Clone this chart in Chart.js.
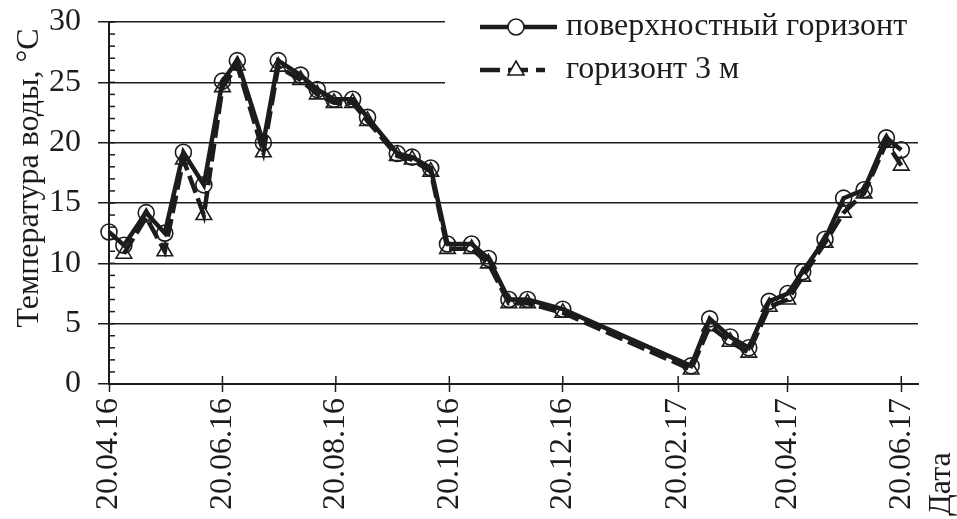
<!DOCTYPE html>
<html>
<head>
<meta charset="utf-8">
<script src="https://cdn.jsdelivr.net/npm/chart.js@4/dist/chart.umd.min.js"></script>
<style>
  html, body { margin: 0; padding: 0; background: #fff; }
  #fontProbe { position: absolute; left: 0; top: 0; visibility: hidden; font-family: 'Liberation Serif'; font-size: 32px; }
</style>
</head>
<body>
<span id="fontProbe">Температура воды 0123456789</span>
<canvas id="tempChart" width="957" height="519"></canvas>
<script>
// days since 20.04.16
var surfaceDays = [0, 8, 20, 30, 40, 51, 61, 69, 83, 91, 103, 112, 121, 131, 139, 155, 163, 173, 182, 195, 204, 215, 225, 244, 313, 323, 334, 344, 355, 365, 373, 385, 395, 406, 418, 426];
var surfaceTemp = [12.6, 11.5, 14.2, 12.5, 19.2, 16.5, 25.1, 26.8, 20.0, 26.8, 25.6, 24.4, 23.6, 23.6, 22.1, 19.1, 18.8, 17.9, 11.6, 11.6, 10.4, 7.0, 7.0, 6.2, 1.5, 5.4, 3.9, 3.0, 6.85, 7.5, 9.3, 12.0, 15.4, 16.1, 20.4, 19.4];

var depthDays = [8, 20, 30, 40, 51, 61, 69, 83, 91, 103, 112, 121, 131, 139, 155, 163, 173, 182, 195, 204, 215, 225, 244, 313, 323, 334, 344, 355, 365, 373, 385, 395, 406, 418, 426];
var depthTemp = [10.8, 13.8, 11.0, 18.6, 14.0, 24.6, 26.4, 19.2, 26.3, 25.2, 24.0, 23.3, 23.3, 21.8, 18.9, 18.6, 17.6, 11.2, 11.2, 10.0, 6.7, 6.7, 5.9, 1.2, 4.8, 3.5, 2.6, 6.4, 7.0, 8.9, 11.7, 14.2, 15.8, 20.0, 18.1];

var tickDays = [0, 61, 122, 183, 244, 306, 365, 426];
var tickLabels = ['20.04.16', '20.06.16', '20.08.16', '20.10.16', '20.12.16', '20.02.17', '20.04.17', '20.06.17'];

var seriesNames = ['поверхностный горизонт', 'горизонт 3 м'];
var yTitle = 'Температура воды, °С';
var xTitle = 'Дата';

var FONT = "'Liberation Serif'";
var INK = '#1c1c1c';

function toPoints(xs, ys) {
    return xs.map(function (d, i) { return { x: d, y: ys[i] }; });
}

// legend box, axis titles and the inner tick marks
var decorPlugin = {
    id: 'decor',
    beforeDatasetsDraw: function (chart) {
        var ctx = chart.ctx;
        var area = chart.chartArea;
        var xs = chart.scales.x, ys = chart.scales.y;
        ctx.save();

        // white legend background covering the grid
        ctx.fillStyle = '#fff';
        ctx.fillRect(445, 0, 500, 97);

        // inner ticks on the y axis
        ctx.strokeStyle = INK;
        ctx.lineWidth = 1.5;
        for (var v = 0; v <= 30; v++) {
            var py = ys.getPixelForValue(v);
            ctx.beginPath();
            ctx.moveTo(area.left, py);
            ctx.lineTo(area.left + 6, py);
            ctx.stroke();
        }
        // upward part of the x ticks
        tickDays.forEach(function (d) {
            var px = xs.getPixelForValue(d);
            ctx.beginPath();
            ctx.moveTo(px, area.bottom);
            ctx.lineTo(px, area.bottom - 8);
            ctx.stroke();
        });

        // legend
        ctx.lineWidth = 4.5;
        ctx.beginPath();
        ctx.moveTo(480, 27);
        ctx.lineTo(557, 27);
        ctx.stroke();
        ctx.lineWidth = 1.6;
        ctx.beginPath();
        ctx.arc(516, 27, 8, 0, Math.PI * 2);
        ctx.fillStyle = '#fff';
        ctx.fill();
        ctx.stroke();

        ctx.lineWidth = 4.5;
        ctx.setLineDash([20, 8]);
        ctx.beginPath();
        ctx.moveTo(480, 70);
        ctx.lineTo(545, 70);
        ctx.stroke();
        ctx.setLineDash([]);
        ctx.lineWidth = 1.6;
        ctx.beginPath();
        ctx.moveTo(516, 61);
        ctx.lineTo(524, 75);
        ctx.lineTo(508, 75);
        ctx.closePath();
        ctx.fillStyle = '#fff';
        ctx.fill();
        ctx.stroke();

        ctx.fillStyle = INK;
        ctx.font = '32px ' + FONT;
        ctx.textAlign = 'left';
        ctx.textBaseline = 'middle';
        ctx.fillText(seriesNames[0], 566, 27);
        ctx.fillText(seriesNames[1], 566, 70);

        // axis titles
        ctx.save();
        ctx.translate(30, 178);
        ctx.rotate(-Math.PI / 2);
        ctx.textAlign = 'center';
        ctx.fillText(yTitle, 0, 0);
        ctx.restore();

        ctx.save();
        ctx.translate(942, 516);
        ctx.rotate(-Math.PI / 2);
        ctx.textAlign = 'left';
        ctx.fillText(xTitle, 0, 0);
        ctx.restore();

        ctx.restore();
    }
};

function buildChart() {
    var ctx = document.getElementById('tempChart').getContext('2d');
    return new Chart(ctx, {
        type: 'line',
        data: {
            datasets: [{
                label: seriesNames[0],
                data: toPoints(surfaceDays, surfaceTemp),
                borderColor: INK,
                borderWidth: 4.5,
                pointStyle: 'circle',
                pointRadius: 8,
                pointBorderWidth: 1.6,
                pointBorderColor: INK,
                pointBackgroundColor: 'rgba(0,0,0,0)',
                tension: 0,
                clip: false
            }, {
                label: seriesNames[1],
                data: toPoints(depthDays, depthTemp),
                borderColor: INK,
                borderWidth: 4.5,
                borderDash: [18, 6],
                pointStyle: 'triangle',
                pointRadius: 9,
                pointBorderWidth: 1.6,
                pointBorderColor: INK,
                pointBackgroundColor: 'rgba(0,0,0,0)',
                tension: 0,
                clip: false
            }]
        },
        options: {
            responsive: false,
            animation: false,
            devicePixelRatio: 1,
            layout: { padding: { left: 0, top: 22, right: 39, bottom: 0 } },
            plugins: {
                legend: { display: false },
                tooltip: { enabled: false }
            },
            scales: {
                x: {
                    type: 'linear',
                    min: 0,
                    max: 435,
                    afterBuildTicks: function (scale) {
                        scale.ticks = tickDays.map(function (d) { return { value: d }; });
                    },
                    afterFit: function (scale) {
                        scale.height = 135;
                        scale.paddingLeft = 0;
                        scale.paddingRight = 0;
                    },
                    ticks: {
                        autoSkip: false,
                        minRotation: 90,
                        maxRotation: 90,
                        padding: 6,
                        color: INK,
                        font: { family: FONT, size: 32 },
                        callback: function (value, index) { return tickLabels[index]; }
                    },
                    grid: {
                        drawOnChartArea: false,
                        drawTicks: true,
                        tickLength: 8,
                        tickColor: INK,
                        tickWidth: 1.5
                    },
                    border: { display: true, color: INK, width: 2 }
                },
                y: {
                    min: 0,
                    max: 30,
                    ticks: {
                        stepSize: 5,
                        padding: 17,
                        color: INK,
                        font: { family: FONT, size: 32 }
                    },
                    afterFit: function (scale) {
                        scale.width = 109;
                        scale.paddingTop = 0;
                        scale.paddingBottom = 0;
                    },
                    grid: {
                        color: INK,
                        lineWidth: 1.5,
                        drawTicks: true,
                        tickLength: 11,
                        tickColor: INK
                    },
                    border: { display: true, color: INK, width: 2 }
                }
            }
        },
        plugins: [decorPlugin]
    });
}

var fontReady = document.fonts && document.fonts.load
    ? document.fonts.load('32px ' + FONT, 'Температура 0123456789')
    : Promise.resolve();
var timeout = new Promise(function (resolve) { setTimeout(resolve, 500); });
Promise.race([fontReady, timeout]).then(buildChart, buildChart);
</script>
</body>
</html>
